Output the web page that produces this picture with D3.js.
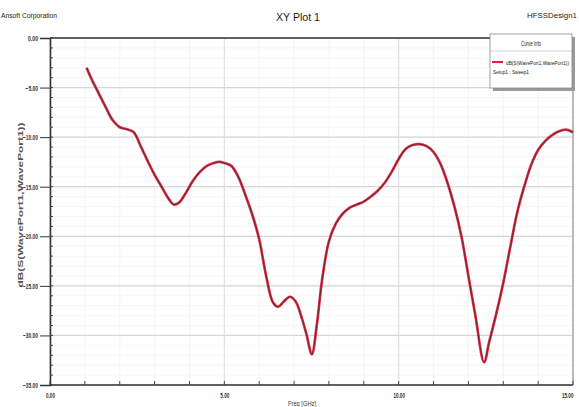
<!DOCTYPE html>
<html>
<head>
<meta charset="utf-8">
<script src="https://cdn.jsdelivr.net/npm/d3@7"></script>
<style>
  html, body { margin: 0; padding: 0; background: #fff; }
  svg { display: block; }
  text { font-family: "Liberation Sans", "DejaVu Sans", sans-serif; }
</style>
</head>
<body>
<svg id="chart" width="579" height="407"></svg>
<script>
// ---- data ----
const freqGHz = [1.05, 1.2, 1.4, 1.6, 1.8, 2.0, 2.2, 2.4, 2.6, 2.8, 3.0, 3.2, 3.4, 3.55, 3.7, 3.9, 4.1, 4.3, 4.5, 4.7, 4.85, 5.0, 5.2, 5.4, 5.6, 5.8, 6.0, 6.2, 6.4, 6.55, 6.7, 6.88, 7.05, 7.2, 7.35, 7.51, 7.65, 7.8, 8.0, 8.2, 8.4, 8.6, 8.8, 9.0, 9.2, 9.4, 9.6, 9.8, 10.0, 10.2, 10.4, 10.6, 10.8, 11.0, 11.2, 11.4, 11.6, 11.8, 12.0, 12.2, 12.45, 12.6, 12.8, 13.0, 13.2, 13.4, 13.6, 13.8, 14.0, 14.2, 14.4, 14.6, 14.8, 15.0];
const s11dB =   [-3.0, -4.2, -5.6, -7.0, -8.3, -9.0, -9.2, -9.5, -10.9, -12.4, -13.8, -15.0, -16.2, -16.8, -16.6, -15.6, -14.4, -13.5, -12.9, -12.6, -12.5, -12.6, -12.9, -14.0, -15.8, -17.8, -20.3, -24.0, -26.7, -27.1, -26.6, -26.1, -26.6, -28.0, -29.8, -31.9, -29.0, -24.5, -20.5, -18.7, -17.7, -17.1, -16.8, -16.5, -16.0, -15.4, -14.6, -13.5, -12.2, -11.2, -10.8, -10.7, -10.9, -11.5, -12.7, -14.6, -17.0, -20.0, -24.0, -28.0, -32.7, -30.6, -27.8, -24.7, -21.1, -17.6, -15.0, -12.8, -11.3, -10.4, -9.8, -9.4, -9.25, -9.5];
const yTicks = [0, -5, -10, -15, -20, -25, -30, -35];
const xTicks = [0, 5, 10, 15];
const xMinorTicks = d3.range(0, 15.001, 1);
const yMinorTicks = d3.range(-35, 0.001, 1);
const titleText = "XY Plot 1";
const companyText = "Ansoft Corporation";
const designText = "HFSSDesign1";
const xLabel = "Freq [GHz]";
const yLabel = "dB(S(WavePort1,WavePort1))";
const legendTitle = "Curve Info";
const legendSeries = "dB(S(WavePort1,WavePort1))";
const legendSetup = "Setup1 : Sweep1";

// ---- layout ----
const svg = d3.select("#chart");
const pL = 50, pR = 573, pT = 38, pB = 385;
const x = d3.scaleLinear().domain([0, 15]).range([pL, pR]);
const y = d3.scaleLinear().domain([0, -35]).range([pT, pB]);
const fmt = d3.format(".2f");
function squeeze(sel, perChar) {
  sel.each(function () {
    const t = d3.select(this);
    t.attr("textLength", t.text().length * perChar).attr("lengthAdjust", "spacingAndGlyphs");
  });
}

// minor grid
svg.append("g").selectAll("line").data(xMinorTicks).join("line")
  .attr("x1", d => x(d)).attr("x2", d => x(d)).attr("y1", pT).attr("y2", pB)
  .attr("stroke", "#f2f2f2").attr("stroke-width", 0.8);
svg.append("g").selectAll("line").data(yMinorTicks).join("line")
  .attr("y1", d => y(d)).attr("y2", d => y(d)).attr("x1", pL).attr("x2", pR)
  .attr("stroke", "#f5f5f5").attr("stroke-width", 0.8);
// major grid
svg.append("g").selectAll("line").data(xTicks).join("line")
  .attr("x1", d => x(d)).attr("x2", d => x(d)).attr("y1", pT).attr("y2", pB)
  .attr("stroke", "#dcdcdc").attr("stroke-width", 1);
svg.append("g").selectAll("line").data(yTicks).join("line")
  .attr("y1", d => y(d)).attr("y2", d => y(d)).attr("x1", pL).attr("x2", pR)
  .attr("stroke", "#d6d6d6").attr("stroke-width", 1.2);

// frame
svg.append("line").attr("x1", pL).attr("x2", pR).attr("y1", pT).attr("y2", pT).attr("stroke", "#333").attr("stroke-width", 1.6);
svg.append("line").attr("x1", pL).attr("x2", pR).attr("y1", pB).attr("y2", pB).attr("stroke", "#333").attr("stroke-width", 1.6);
svg.append("line").attr("x1", pR).attr("x2", pR).attr("y1", pT).attr("y2", pB).attr("stroke", "#999").attr("stroke-width", 1.2);

// y axis
const yAxis = d3.axisLeft(y).tickValues(yTicks).tickFormat(fmt).tickSize(10).tickPadding(2);
const gy = svg.append("g").attr("transform", `translate(${pL},0)`).call(yAxis);
gy.select(".domain").attr("stroke", "#333").attr("stroke-width", 1.6);
gy.selectAll(".tick line").attr("stroke", "#333");
gy.selectAll("text").attr("font-size", 8).attr("font-weight", "bold").attr("fill", "#333").call(squeeze, 2.5);
svg.append("g").selectAll("line").data(yMinorTicks).join("line")
  .attr("x1", pL).attr("x2", pL + 3).attr("y1", d => y(d)).attr("y2", d => y(d))
  .attr("stroke", "#444").attr("stroke-width", 1);

// x axis
const xAxis = d3.axisBottom(x).tickValues(xTicks).tickFormat(fmt).tickSize(0).tickPadding(7);
const gx = svg.append("g").attr("transform", `translate(0,${pB})`).call(xAxis);
gx.select(".domain").remove();
gx.selectAll("text").attr("font-size", 8).attr("font-weight", "bold").attr("fill", "#333")
  .attr("transform", "scale(0.58,1)");
gx.selectAll(".tick").filter(d => d === 15).select("text").attr("text-anchor", "end").attr("x", 0);
svg.append("g").selectAll("line").data(xMinorTicks).join("line")
  .attr("x1", d => x(d)).attr("x2", d => x(d)).attr("y1", pB).attr("y2", pB - 4)
  .attr("stroke", "#444").attr("stroke-width", 1);

// curve
const pts = freqGHz.map((f, i) => [f, s11dB[i]]);
const line = d3.line().x(d => x(d[0])).y(d => y(d[1])).curve(d3.curveCatmullRom.alpha(0.5));
svg.append("path").datum(pts).attr("d", line).attr("fill", "none")
  .attr("stroke", "#e8304a").attr("stroke-width", 2.7).attr("stroke-linejoin", "round");
svg.append("path").datum(pts).attr("d", line).attr("fill", "none")
  .attr("stroke", "#6e2a30").attr("stroke-width", 1.1).attr("stroke-linejoin", "round");

// titles
svg.append("text").attr("x", 298).attr("y", 21).attr("text-anchor", "middle").attr("font-size", 11).attr("fill", "#222")
  .attr("textLength", 44).attr("lengthAdjust", "spacingAndGlyphs").text(titleText);
svg.append("text").attr("x", 1).attr("y", 18).attr("font-size", 8).attr("fill", "#222")
  .attr("textLength", 56).attr("lengthAdjust", "spacingAndGlyphs").text(companyText);
svg.append("text").attr("x", 527).attr("y", 18).attr("font-size", 8).attr("fill", "#222")
  .attr("textLength", 50).attr("lengthAdjust", "spacingAndGlyphs").text(designText);
svg.append("text").attr("x", 302).attr("y", 406).attr("text-anchor", "middle").attr("font-size", 7).attr("fill", "#333")
  .attr("textLength", 28).attr("lengthAdjust", "spacingAndGlyphs").text(xLabel);
svg.append("text").attr("transform", "translate(23,205) rotate(-90)").attr("text-anchor", "middle").attr("font-size", 6.5).attr("font-weight", "bold").attr("fill", "#555")
  .attr("textLength", 165).attr("lengthAdjust", "spacingAndGlyphs").text(yLabel);

// legend
const lg = svg.append("g");
lg.append("rect").attr("x", 493).attr("y", 37).attr("width", 82).attr("height", 54).attr("fill", "#9a9a9a");
lg.append("rect").attr("x", 490).attr("y", 34).attr("width", 82).attr("height", 54).attr("fill", "#fff").attr("stroke", "#888").attr("stroke-width", 0.8);
lg.append("line").attr("x1", 490).attr("x2", 572).attr("y1", 51).attr("y2", 51).attr("stroke", "#bbb").attr("stroke-width", 0.6);
lg.append("text").attr("x", 531).attr("y", 46).attr("text-anchor", "middle").attr("font-size", 6.5).attr("fill", "#222")
  .attr("textLength", 20).attr("lengthAdjust", "spacingAndGlyphs").text(legendTitle);
lg.append("line").attr("x1", 492).attr("x2", 503).attr("y1", 62).attr("y2", 62).attr("stroke", "#e0203a").attr("stroke-width", 2);
lg.append("text").attr("x", 506).attr("y", 64.5).attr("font-size", 5.6).attr("fill", "#222")
  .attr("textLength", 63).attr("lengthAdjust", "spacingAndGlyphs").text(legendSeries);
lg.append("text").attr("x", 493).attr("y", 74).attr("font-size", 6.2).attr("fill", "#222")
  .attr("textLength", 36).attr("lengthAdjust", "spacingAndGlyphs").text(legendSetup);
</script>
</body>
</html>
